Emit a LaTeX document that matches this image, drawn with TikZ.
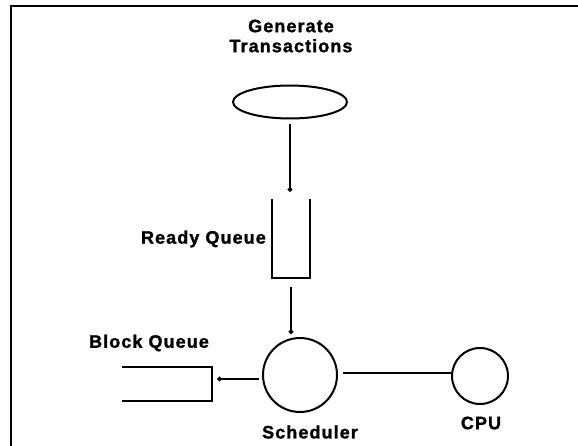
\documentclass[tikz,border=0pt]{standalone}
\usepackage{fontspec}
\newfontfamily\lblfont{Liberation Sans}[LetterSpace=6, BoldFeatures={FakeBold=1.4}]
\usetikzlibrary{arrows.meta,shapes.geometric}
\tikzset{
  lbl/.style={font=\lblfont\bfseries\fontsize{18}{20}\selectfont, inner sep=0pt, align=center},
  shape line/.style={line width=2pt, line join=miter},
  conn/.style={line width=1.8pt},
  arr/.style={conn, -{Circle[length=4.5pt]}},
  frame/.style={line width=2.6pt}
}
\begin{document}
\begin{tikzpicture}[x=1pt,y=-1pt]
\useasboundingbox (0,0) rectangle (578,446);
% frame
\draw[frame] (11,446) -- (11,6) -- (578,6);
% nodes
\node[lbl] (gentxt) at (291,36) {Generate\\Transactions};
\node[draw, shape line, ellipse, minimum width=114pt, minimum height=33pt, inner sep=0pt] (gen) at (290,102) {};
\node[minimum width=38pt, minimum height=79pt, inner sep=0pt] (rq) at (291,238.5) {};
\draw[shape line] (rq.north west) -- (rq.south west) -- (rq.south east) -- (rq.north east);
\node[lbl, anchor=east] (rqtxt) at (266,239) {Ready Queue};
\node[draw, shape line, circle, minimum size=74pt, inner sep=0pt] (sched) at (300,375) {};
\node[lbl] (schedtxt) at (310,432) {Scheduler};
\node[draw, shape line, circle, minimum size=56pt, inner sep=0pt] (cpu) at (480,376) {};
\node[lbl] (cputxt) at (481,423) {CPU};
\node[minimum width=90pt, minimum height=34pt, inner sep=0pt] (bq) at (167,384) {};
\draw[shape line] (bq.north west) -- (bq.north east) -- (bq.south east) -- (bq.south west);
\node[lbl] (bqtxt) at (149,343) {Block Queue};
% connectors
\draw[arr, shorten <=5pt, shorten >=7pt] (gen.south) -- (gen.south |- rq.north);
\draw[arr, shorten <=9pt, shorten >=3pt] (rq.south) -- (rq.south |- sched.north);
\draw[arr, shorten <=3pt, shorten >=5pt] ([yshift=-4pt]sched.west) -- ([yshift=-4pt]sched.west -| bq.east);
\draw[conn, shorten <=5pt] ([yshift=2pt]sched.east) -- ([yshift=2pt]sched.east -| cpu.west);
\end{tikzpicture}
\end{document}
